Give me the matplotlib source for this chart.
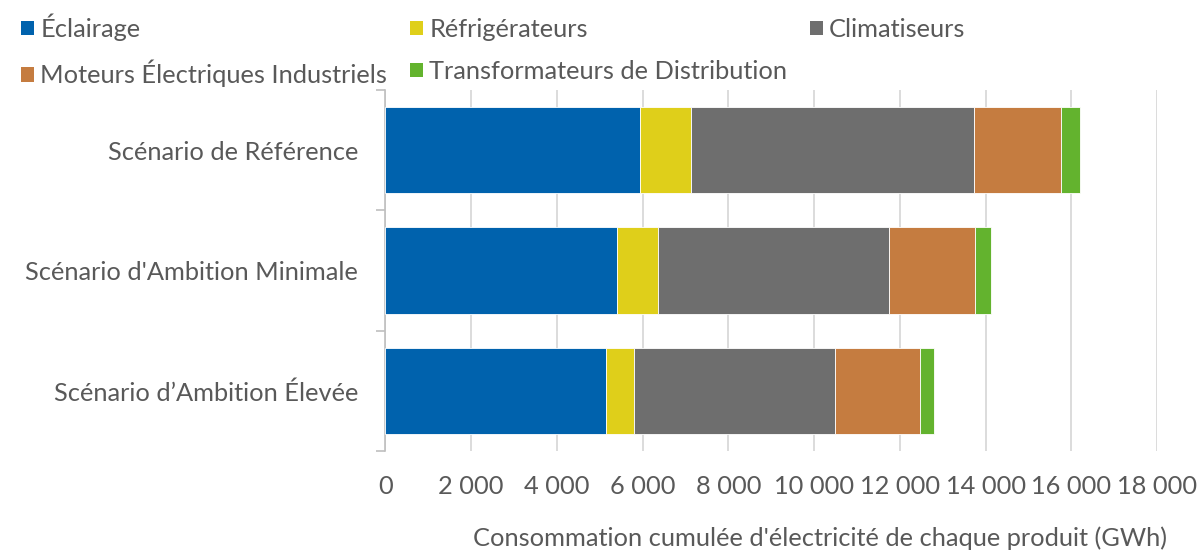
import numpy as np
import matplotlib.pyplot as plt
from matplotlib.patches import Patch

plt.rcParams['font.family'] = ['Lato', 'DejaVu Sans']

scenarios = ["Scénario de Référence", "Scénario d'Ambition Minimale", "Scénario d\u2019Ambition Élevée"]
products = ["Éclairage", "Réfrigérateurs", "Climatiseurs",
            "Moteurs Électriques Industriels", "Transformateurs de Distribution"]
colors = ["#0062AD", "#DFCF1A", "#6E6E6E", "#C57C40", "#63B32E"]

# GWh per product, one list per product (order = scenarios)
eclairage = [5934, 5414, 5142]
refrigerateurs = [1189, 956, 660]
climatiseurs = [6593, 5373, 4676]
moteurs = [2035, 1997, 1987]
transformateurs = [459, 373, 327]
series = [eclairage, refrigerateurs, climatiseurs, moteurs, transformateurs]

xticks = np.arange(0, 18001, 2000)
xtick_labels = ["0", "2 000", "4 000", "6 000", "8 000", "10 000",
                "12 000", "14 000", "16 000", "18 000"]

text_color = "#595959"
fs = 18.3

fig = plt.figure(figsize=(11.98, 5.53), dpi=100)
ax = fig.add_axes([0.3216, 0.1844, 0.966 - 0.3216, 0.8373 - 0.1844])

y = np.arange(len(scenarios))
left = np.zeros(len(scenarios))
for vals, col, name in zip(series, colors, products):
    ax.barh(y, vals, left=left, height=0.72, color=col, edgecolor="white",
            linewidth=0.6, label=name, zorder=3)
    left += np.array(vals)

ax.set_xlim(0, 18000)
ax.set_ylim(2.5, -0.5)
ax.set_xticks(xticks)
ax.set_xticklabels(xtick_labels)
ax.set_yticks(y)
ax.set_yticklabels(scenarios)
ax.set_yticks([-0.5, 0.5, 1.5, 2.5], minor=True)

ax.grid(axis="x", color="#D9D9D9", linewidth=1.3, zorder=0)
for s in ["top", "right", "bottom"]:
    ax.spines[s].set_visible(False)
ax.spines["left"].set_color("#BFBFBF")
ax.spines["left"].set_linewidth(1.2)

ax.tick_params(axis="y", which="major", length=0, pad=19.5, labelsize=fs, labelcolor=text_color)
ax.tick_params(axis="y", which="minor", length=6.5, color="#BFBFBF", width=1.2)
ax.tick_params(axis="x", length=0, pad=17, labelsize=fs, labelcolor=text_color)

ax.set_xlabel("Consommation cumulée d'électricité de chaque produit (GWh)",
              fontsize=fs, color=text_color, va="center")
ax.xaxis.set_label_coords(0.563, -0.241)

handles = [Patch(facecolor=c) for c in colors]
order = [0, 3, 1, 4, 2]
fig.legend([handles[i] for i in order], [products[i] for i in order],
           ncol=3, loc="upper left", bbox_to_anchor=(0.003, 1.008),
           frameon=False, fontsize=fs, labelcolor=text_color,
           handlelength=0.5, handleheight=0.5, handletextpad=0.25,
           columnspacing=0.9, labelspacing=0.75, borderaxespad=0.3)

fig.savefig("out.png", dpi=100)
